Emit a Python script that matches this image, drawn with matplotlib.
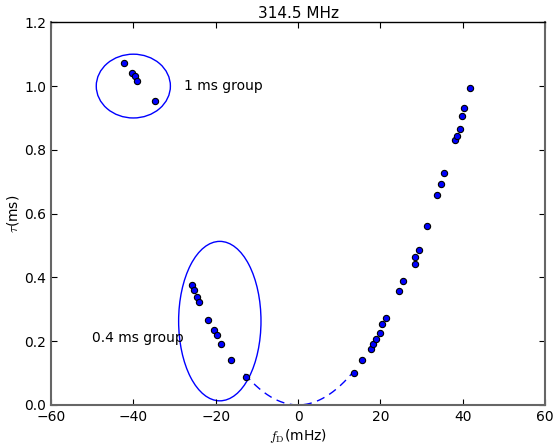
import numpy as np
import matplotlib
matplotlib.use("Agg")
import matplotlib.pyplot as plt
from matplotlib.patches import Ellipse

plt.rcParams['mathtext.fontset'] = 'cm'

# 1 ms group
fd_1ms = [-42.2, -40.3, -39.5, -39.0, -34.7]
tau_1ms = [1.073, 1.042, 1.033, 1.017, 0.953]

# 0.4 ms group
fd_04ms = [-25.7, -25.2, -24.5, -24.1, -21.8, -20.3, -19.8, -18.7, -16.4, -12.7]
tau_04ms = [0.377, 0.360, 0.338, 0.324, 0.266, 0.235, 0.219, 0.191, 0.140, 0.087]

# main arc (positive side)
fd_arc = [13.5, 15.6, 17.8, 18.3, 19.0, 20.0, 20.5, 21.4, 24.4, 25.5,
          28.3, 28.4, 29.4, 31.4, 33.7, 34.8, 35.4, 38.2, 38.5, 39.4,
          39.8, 40.4, 41.7]
tau_arc = [0.101, 0.142, 0.176, 0.191, 0.207, 0.227, 0.254, 0.274, 0.356, 0.389,
           0.441, 0.465, 0.487, 0.562, 0.658, 0.693, 0.727, 0.830, 0.844, 0.865,
           0.906, 0.930, 0.995]

# parabola curvature (ms / mHz^2)
curv = 5.78e-4

fig = plt.figure(figsize=(5.54, 4.46), dpi=100)
ax = fig.add_axes([0.092, 0.092, 0.892, 0.858])

fd_all = fd_1ms + fd_04ms + fd_arc
tau_all = tau_1ms + tau_04ms + tau_arc
ax.plot(fd_all, tau_all, 'o', color='blue', mec='black', mew=0.8, ms=4.5, zorder=3)

f = np.linspace(-13, 13, 200)
ax.plot(f, curv * f**2, '--', color='blue', lw=1, dashes=(6, 4))

ax.add_patch(Ellipse((-40, 1.0), 18, 0.2, fill=False, ec='blue', lw=1))
ax.add_patch(Ellipse((-19, 0.263), 20, 0.5, fill=False, ec='blue', lw=1))
ax.text(-27.8, 1.0, '1 ms group', fontsize=10, va='center')
ax.text(-50, 0.21, '0.4 ms group', fontsize=10, va='center')

ax.set_xlim(-60, 60)
ax.set_ylim(0, 1.2)
ax.set_xticks([-60, -40, -20, 0, 20, 40, 60])
ax.set_yticks([0.0, 0.2, 0.4, 0.6, 0.8, 1.0, 1.2])
ax.tick_params(direction='in', top=True, right=True, labelsize=10, length=4)
for side in ['left', 'bottom', 'right']:
    ax.spines[side].set_color('#666666')
    ax.spines[side].set_linewidth(1.5)
ax.spines['top'].set_color('black')
ax.spines['top'].set_linewidth(1)

ax.set_title('314.5 MHz', fontsize=11, pad=3)
ax.set_xlabel(r'$f_{\rm D}$(mHz)', fontsize=10, labelpad=2)
ax.set_ylabel(r'$\tau$(ms)', fontsize=10, labelpad=2)

fig.savefig('out.png', dpi=100)
